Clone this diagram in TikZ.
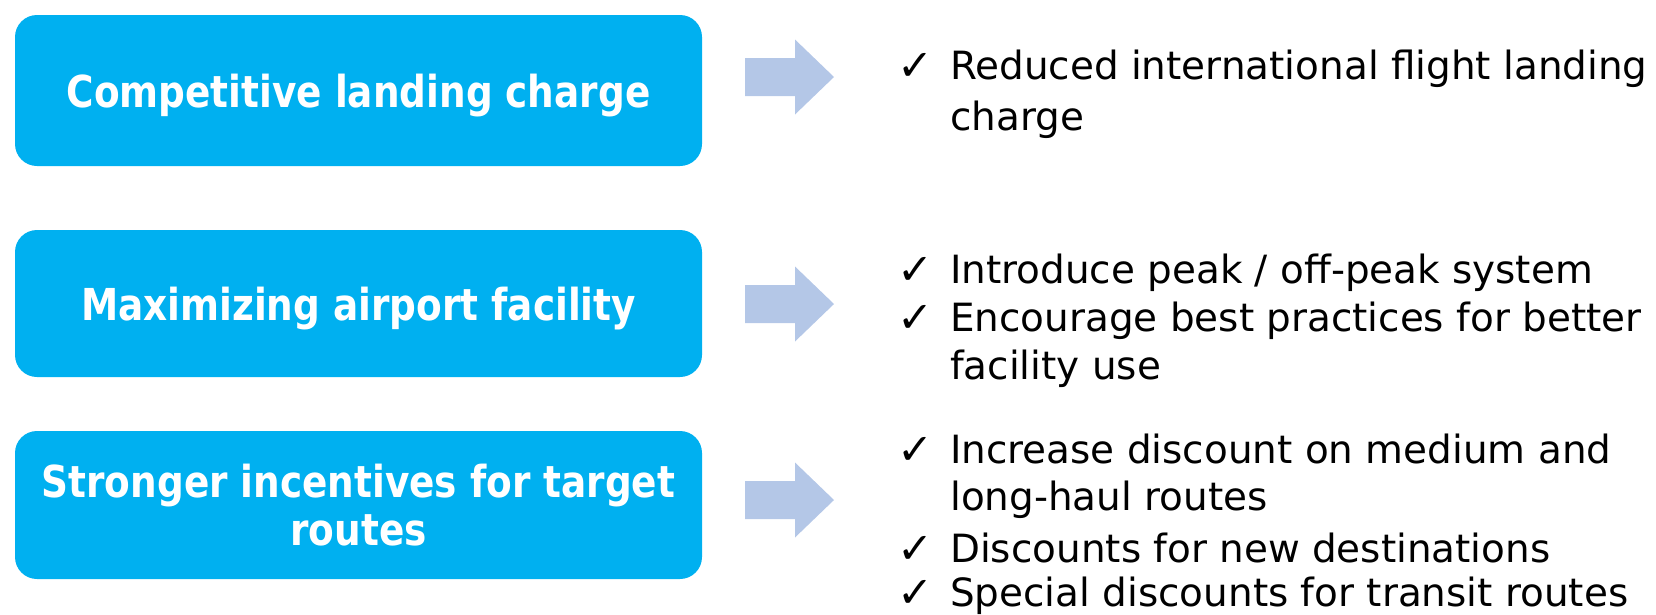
\documentclass[tikz,border=0pt]{standalone}
\usepackage{fontspec}
\setmainfont{DejaVu Sans}
\newfontfamily\boxfont[FakeStretch=0.85]{DejaVu Sans Bold}
\definecolor{boxblue}{HTML}{00B0F0}
\definecolor{arrowblue}{HTML}{B4C7E7}
\tikzset{
  topic/.style={fill=boxblue, rounded corners=22pt, minimum width=687pt, inner sep=0pt,
    text=white, align=center, font=\boxfont\fontsize{44}{48}\selectfont},
  item/.style={anchor=base west, inner sep=0pt, font=\fontsize{38.9}{50.7}\selectfont},
  tick/.style={anchor=base west, inner sep=0pt, text depth=0pt, font=\fontsize{43}{45}\selectfont},
  blockarrow/.pic={\fill[arrowblue] (0,-19) -- (50,-19) -- (50,-37.5) -- (89,0) -- (50,37.5) -- (50,19) -- (0,19) -- cycle;}
}
\begin{document}
\begin{tikzpicture}[x=1pt,y=-1pt]
\useasboundingbox (0,0) rectangle (1656,614);
% boxes
\node[topic, minimum height=151pt, text depth=0pt] (b1) at (358.5,90.5) {Competitive landing charge};
\node[topic, minimum height=147pt, text depth=0pt] (b2) at (358.5,303.5) {Maximizing airport facility};
\node[topic, minimum height=148pt] (b3) at (358.5,505) {Stronger incentives for target\\routes};
% arrows
\pic at (745,77) {blockarrow};
\pic at (745,304) {blockarrow};
\pic at (745,500) {blockarrow};
% list 1
\node[tick] (t11) at (897,80) {✓};
\node[item] (l11) at (950,79) {Reduced international flight landing};
\node[item] (l12) at (950,130) {charge};
% list 2
\node[tick] (t21) at (897,284) {✓};
\node[item] (l21) at (950,283) {Introduce peak / off-peak system};
\node[tick] (t22) at (897,332) {✓};
\node[item] (l22) at (950,331) {Encourage best practices for better};
\node[item] (l23) at (950,379) {facility use};
% list 3
\node[tick] (t31) at (897,464) {✓};
\node[item] (l31) at (950,463) {Increase discount on medium and};
\node[item] (l32) at (950,510) {long-haul routes};
\node[tick] (t33) at (897,563) {✓};
\node[item] (l33) at (950,562) {Discounts for new destinations};
\node[tick] (t34) at (897,607) {✓};
\node[item] (l34) at (950,606) {Special discounts for transit routes};
\end{tikzpicture}
\end{document}
